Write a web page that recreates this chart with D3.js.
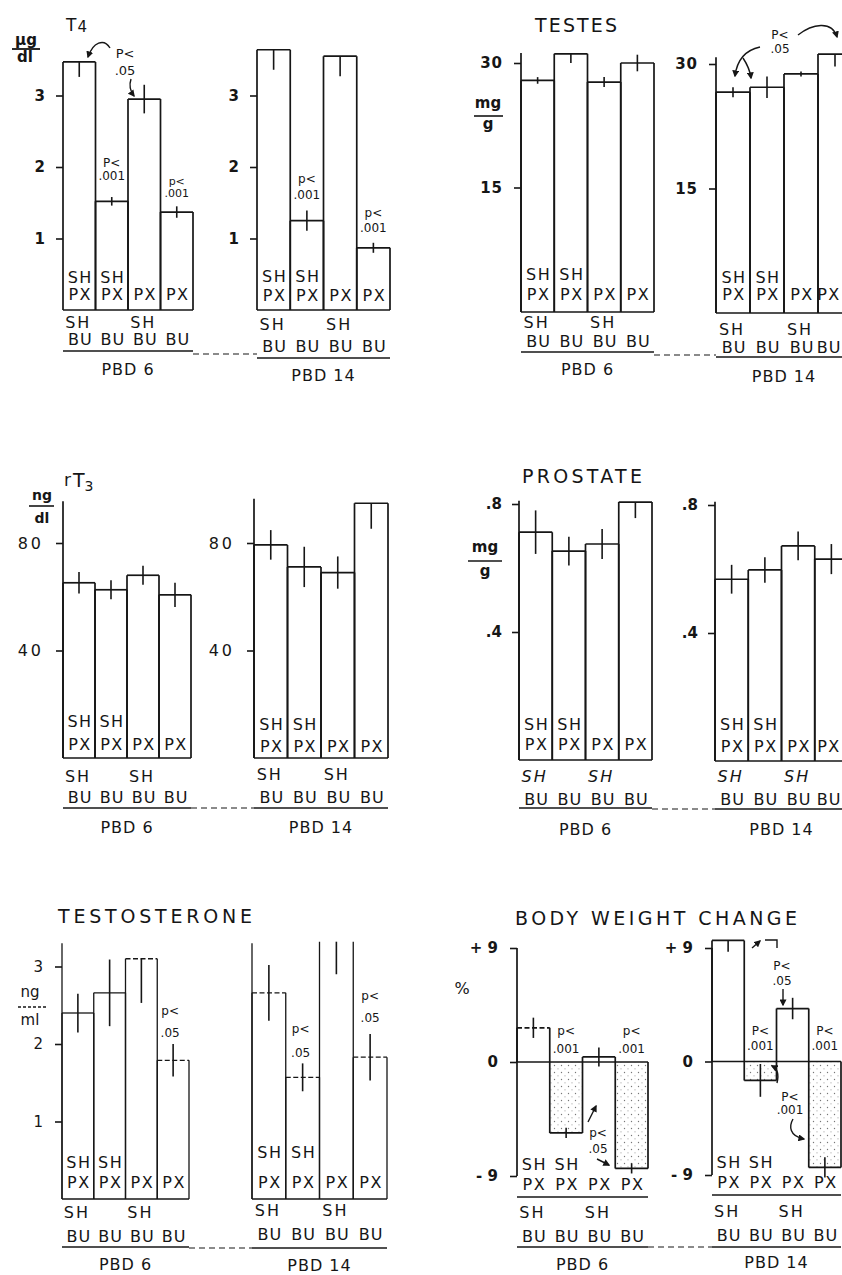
<!DOCTYPE html>
<html><head><meta charset="utf-8">
<script src="https://cdn.jsdelivr.net/npm/d3@7"></script>
<style>
body{margin:0;background:#fff}
svg{display:block}
text{font-family:"DejaVu Sans",sans-serif;fill:#161616}
</style>
</head><body>
<svg id="c" width="842" height="1275"></svg>
<script>
// ---------- DATA ----------
const catTop = [["SH","PX"],["SH","PX"],["","PX"],["","PX"]];
const catBottom = [["SH","BU"],["","BU"],["SH","BU"],["","BU"]];
const groupLabels = ["PBD 6","PBD 14"];

// T4 (µg/dl)
const t4Ticks = [1,2,3], t4TickLabels = ["1","2","3"];
const t4Pbd6 = [3.47,1.52,2.95,1.37], t4Pbd6Err = [0.21,0.06,0.2,0.08];
const t4Pbd14 = [3.64,1.25,3.55,0.87], t4Pbd14Err = [0.28,0.14,0.28,0.07];

// Testes (mg/g)
const testesTicks = [15,30], testesTickLabels = ["15","30"];
const testesPbd6 = [27.9,31.1,27.7,30.0], testesPbd6Err = [0.4,1.1,0.6,1.0];
const testesPbd14 = [26.6,27.2,28.8,31.2], testesPbd14Err = [0.6,1.3,0.3,1.5];

// rT3 (ng/dl)
const rt3Ticks = [40,80], rt3TickLabels = ["40","80"];
const rt3Pbd6 = [65.2,62.6,68.0,60.7], rt3Pbd6Err = [4,3.5,3.5,4.5];
const rt3Pbd14 = [79.3,71.1,69.0,94.8], rt3Pbd14Err = [5.5,7.5,6,9.5];

// Prostate (mg/g)
const prosTicks = [0.4,0.8], prosTickLabels = [".4",".8"];
const prosPbd6 = [0.712,0.653,0.675,0.806], prosPbd6Err = [0.068,0.045,0.047,0.05];
const prosPbd14 = [0.568,0.597,0.672,0.631], prosPbd14Err = [0.045,0.04,0.045,0.047];

// Testosterone (ng/ml)
const testoTicks = [1,2,3], testoTickLabels = ["1","2","3"];
const testoPbd6 = [2.4,2.66,3.1,1.79], testoPbd6Err = [0.25,0.43,0.57,0.21];
const testoPbd14 = [2.66,1.57,3.32,1.83], testoPbd14Err = [0.36,0.18,0.42,0.3];

// Body weight change (%)
const bwTicks = [-9,0,9], bwTickLabels = ["- 9","0","+ 9"];
const bwPbd6 = [2.7,-5.6,0.4,-8.4], bwPbd6Err = [0.8,0.4,0.75,0.4];
const bwPbd14 = [9.6,-1.5,4.2,-8.4], bwPbd14Err = [0.9,1.3,0.85,0.8];

// ---------- DRAWING ----------
const INK = "#161616";
const svg = d3.select("#c");
const defs = svg.append("defs");
const pat = defs.append("pattern").attr("id","stip").attr("patternUnits","userSpaceOnUse")
  .attr("width",7).attr("height",7);
pat.append("circle").attr("cx",1.5).attr("cy",1.5).attr("r",0.7).attr("fill","#777");
pat.append("circle").attr("cx",5).attr("cy",4.8).attr("r",0.6).attr("fill","#999");
defs.append("marker").attr("id","arr").attr("viewBox","0 0 10 10").attr("refX",8).attr("refY",5)
  .attr("markerWidth",5).attr("markerHeight",5).attr("orient","auto")
  .append("path").attr("d","M0,0L10,5L0,10z").attr("fill",INK);

function txt(x,y,s,opt={}){
  const t = svg.append("text").attr("x",x).attr("y",y).text(s)
    .attr("font-size",opt.size||16).attr("text-anchor",opt.anchor||"middle");
  if(opt.ls) t.attr("letter-spacing",opt.ls);
  if(opt.len) t.attr("textLength",opt.len).attr("lengthAdjust","spacing");
  if(opt.weight) t.attr("font-weight",opt.weight);
  if(opt.italic) t.attr("font-style","italic");
  return t;
}
function note(x,y,lines,gap,size){
  lines.forEach((s,k)=>txt(x,y+k*gap,s,{size:size||12}));
}
function arrow(d,head=true){
  const p = svg.append("path").attr("d",d).attr("fill","none").attr("stroke",INK).attr("stroke-width",1.4);
  if(head) p.attr("marker-end","url(#arr)");
}
function hline(x1,x2,y,dash,w){
  svg.append("line").attr("x1",x1).attr("x2",x2).attr("y1",y).attr("y2",y)
    .attr("stroke",INK).attr("stroke-width",w||1.4).attr("stroke-dasharray",dash||null);
}

function sub(o){
  const g = svg.append("g");
  const vals = o.values;
  const x = d3.scaleBand().domain(d3.range(vals.length)).range(o.xr);
  const bw = x.bandwidth();
  const y = d3.scaleLinear().domain(o.yd).range(o.yr);
  const sw = o.sw || 1.7;
  const items = vals.map((v,i)=>({v,i,e:o.errs[i],inw:(o.errIn||[]).includes(i)}));

  g.selectAll("rect.neg").data(items.filter(d=>d.v<0)).join("rect")
    .attr("x",d=>x(d.i)).attr("width",bw).attr("y",y(0)).attr("height",d=>y(d.v)-y(0))
    .attr("fill","url(#stip)");
  g.append("line").attr("x1",o.xr[0]).attr("x2",o.xr[1]).attr("y1",y(0)).attr("y2",y(0))
    .attr("stroke",INK).attr("stroke-width",sw);
  g.selectAll("path.side").data(items).join("path")
    .attr("d",d=>`M${x(d.i)},${y(0)}V${y(d.v)}M${x(d.i)+bw},${y(d.v)}V${y(0)}`)
    .attr("fill","none").attr("stroke",INK).attr("stroke-width",sw);
  g.selectAll("line.top").data(items.filter(d=>!(o.openTop||[]).includes(d.i))).join("line")
    .attr("x1",d=>x(d.i)).attr("x2",d=>x(d.i)+bw).attr("y1",d=>y(d.v)).attr("y2",d=>y(d.v))
    .attr("stroke",INK).attr("stroke-width",sw)
    .attr("stroke-dasharray",d=>(o.dashTop||[]).includes(d.i)?"5,2.5":null);
  g.selectAll("line.err").data(items).join("line")
    .attr("x1",d=>x(d.i)+bw*0.5).attr("x2",d=>x(d.i)+bw*0.5)
    .attr("y1",d=>d.inw ? y(d.v) : y(d.v+d.e))
    .attr("y2",d=>y(d.v - (d.inw ? Math.sign(d.v) : 1)*d.e))
    .attr("stroke",INK).attr("stroke-width",1.6);
  if(o.axisTo!=null){
    g.append("line").attr("x1",o.xr[0]).attr("x2",o.xr[0])
      .attr("y1",y(o.axisFrom!=null?o.axisFrom:0)).attr("y2",y(o.axisTo))
      .attr("stroke",INK).attr("stroke-width",sw);
  }
  if(o.ticks){
    const ax = d3.axisLeft(y).tickValues(o.ticks).tickFormat((d,i)=>o.tickLabels[i])
      .tickSize(7).tickPadding(o.pad||9);
    const ag = g.append("g").attr("transform",`translate(${o.xr[0]},0)`).call(ax);
    ag.select(".domain").remove();
    ag.selectAll(".tick line").attr("stroke",INK).attr("stroke-width",1.6);
    ag.selectAll(".tick text").attr("font-size",o.tickSize||15).attr("fill",INK)
      .attr("font-family","DejaVu Sans, sans-serif").attr("font-weight",o.tickBold?"bold":"normal")
      .attr("letter-spacing",o.tickLs||0);
  }
  const r = o.rows;
  items.forEach(d=>{
    const cx = Math.min(x(d.i)+bw/2+1, 829);
    const t = catTop[d.i], b = catBottom[d.i];
    if(t[0]) txt(cx, r.t1, t[0], {ls:1.5});
    if(t[1]) txt(cx, r.t2, t[1], {ls:1.5});
    if(b[0]) txt(cx-2, r.b1, b[0], {ls:2, italic:o.italicSH});
    if(b[1]) txt(cx, r.b2, b[1], {ls:1});
  });
  if(r.pxLine) hline(o.xr[0], o.xr[1], r.pxLine, null, 1.6);
  hline(o.xr[0], o.xr[1], r.line, null, 1.4);
  txt((o.xr[0]+o.xr[1])/2, r.grp, o.group, {ls:1});
  (o.notes||[]).forEach(n=>{
    const v = Math.max(vals[n.i],0);
    note(x(n.i)+bw/2+(n.dx||0), y(v)+n.off, n.lines, n.gap||13, n.size);
  });
}

function panel(a,b,connY){
  sub(a); sub(b);
  hline(a.xr[1], b.xr[0], connY, "6,4", 1.2);
}

// ---------- T4 ----------
txt(66,31,"",{anchor:"start"}).call(t=>{
  t.append("tspan").text("T").attr("font-size",17);
  t.append("tspan").text("4").attr("font-size",15).attr("dx",1).attr("dy",1);
});
txt(26,45,"μg",{size:15,weight:"bold"}); hline(12,40,49,null,1.8); txt(25,62,"dl",{size:15,weight:"bold"});
panel(
  {xr:[63,193], yd:[0,3], yr:[310,95.5], values:t4Pbd6, errs:t4Pbd6Err, errIn:[0],
   ticks:t4Ticks, tickLabels:t4TickLabels, tickBold:true, pad:11, group:groupLabels[0],
   rows:{t1:283,t2:300,b1:328,b2:345,line:351,grp:375},
   notes:[{i:1,off:-34,lines:["P<",".001"]},{i:3,off:-27,gap:12,size:11,lines:["p<",".001"]}]},
  {xr:[257,390], yd:[0,3], yr:[310,95.5], values:t4Pbd14, errs:t4Pbd14Err, errIn:[0,2],
   ticks:t4Ticks, tickLabels:t4TickLabels, tickBold:true, pad:11, group:groupLabels[1],
   rows:{t1:282,t2:301,b1:330,b2:352,line:358,grp:381},
   notes:[{i:1,off:-38,gap:16,lines:["p<",".001"]},{i:3,off:-31,gap:15,lines:["p<",".001"]}]},
  354);
note(125,58,["P<",".05"],17,13);
arrow("M110,48 C104,38 93,42 88,57");
arrow("M131,79 Q128,88 134,96");

// ---------- TESTES ----------
txt(535,32,"TESTES",{anchor:"start",size:19,len:82});
txt(488,108,"mg",{size:15,weight:"bold"}); hline(474,503,116,null,1.6); txt(488,129,"g",{size:15,weight:"bold"});
panel(
  {xr:[521,654], yd:[0,30], yr:[312,63], values:testesPbd6, errs:testesPbd6Err, errIn:[1],
   axisTo:31.2, ticks:testesTicks, tickLabels:testesTickLabels, tickBold:true, pad:11, tickLs:1,
   group:groupLabels[0], rows:{t1:280,t2:300,b1:328,b2:347,line:352,grp:375}},
  {xr:[716,852], yd:[0,30], yr:[313,64], values:testesPbd14, errs:testesPbd14Err, errIn:[3],
   axisTo:30.8, ticks:testesTicks, tickLabels:testesTickLabels, tickBold:true, pad:11, tickLs:1,
   group:groupLabels[1], rows:{t1:283,t2:300,b1:335,b2:353,line:357,grp:382}},
  355);
note(780,39,["P<",".05"],14,12);
arrow("M798,35 C812,24 832,20 837,37");
arrow("M760,47 C746,50 737,60 735,76");
arrow("M743,58 C747,64 750,70 751,78");

// ---------- rT3 ----------
txt(64,486,"r",{anchor:"start",size:17});
txt(73,487,"",{anchor:"start"}).call(t=>{
  t.append("tspan").text("T").attr("font-size",19);
  t.append("tspan").text("3").attr("font-size",14).attr("dy",4);
});
txt(42,500,"ng",{size:14,weight:"bold"}); hline(29,54,506,null,1.6); txt(42,523,"dl",{size:14,weight:"bold"});
panel(
  {xr:[63,191], yd:[0,80], yr:[758,543], values:rt3Pbd6, errs:rt3Pbd6Err,
   axisTo:95.5, ticks:rt3Ticks, tickLabels:rt3TickLabels, pad:12, tickLs:3, tickSize:16,
   group:groupLabels[0], rows:{t1:727,t2:750,b1:782,b2:803,line:808,grp:833}},
  {xr:[254,388], yd:[0,80], yr:[758,543], values:rt3Pbd14, errs:rt3Pbd14Err, errIn:[3],
   axisTo:96.5, ticks:rt3Ticks, tickLabels:rt3TickLabels, pad:12, tickLs:3, tickSize:16,
   group:groupLabels[1], rows:{t1:730,t2:752,b1:780,b2:803,line:808,grp:833}},
  808);

// ---------- PROSTATE ----------
txt(522,483,"PROSTATE",{anchor:"start",size:19,len:120});
txt(485,552,"mg",{size:15,weight:"bold"}); hline(468,502,561,null,1.6); txt(485,576,"g",{size:15,weight:"bold"});
panel(
  {xr:[519,652], yd:[0,0.8], yr:[760,504], values:prosPbd6, errs:prosPbd6Err, errIn:[3],
   axisTo:0.81, ticks:prosTicks, tickLabels:prosTickLabels, tickBold:true, pad:10, italicSH:true,
   group:groupLabels[0], rows:{t1:730,t2:750,b1:782,b2:805,line:808,grp:835}},
  {xr:[715,848], yd:[0,0.8], yr:[761,505], values:prosPbd14, errs:prosPbd14Err,
   axisTo:0.81, ticks:prosTicks, tickLabels:prosTickLabels, tickBold:true, pad:10, italicSH:true,
   group:groupLabels[1], rows:{t1:730,t2:752,b1:782,b2:805,line:809,grp:835}},
  809);

// ---------- TESTOSTERONE ----------
txt(58,923,"TESTOSTERONE",{anchor:"start",size:19,len:194});
txt(30,997,"ng",{size:15}); hline(18,48,1007,"3,2",1.4); txt(30,1025,"ml",{size:15});
panel(
  {xr:[62,189], yd:[0,3], yr:[1199,966.5], values:testoPbd6, errs:testoPbd6Err, errIn:[2], sw:1.3,
   dashTop:[2,3], axisTo:3.3, ticks:testoTicks, tickLabels:testoTickLabels, pad:12,
   group:groupLabels[0], rows:{t1:1168,t2:1188,b1:1218,b2:1242,line:1247,grp:1270},
   notes:[{i:3,dx:-3,off:-45,gap:22,lines:["p<",".05"]}]},
  {xr:[252,387], yd:[0,3], yr:[1199,966.5], values:testoPbd14, errs:testoPbd14Err, errIn:[2], sw:1.3,
   openTop:[2], dashTop:[0,1,3], axisTo:3.3,
   group:groupLabels[1], rows:{t1:1158,t2:1188,b1:1216,b2:1240,line:1248,grp:1271},
   notes:[{i:1,dx:-2,off:-44,gap:24,lines:["p<",".05"]},{i:3,off:-57,gap:22,lines:["p<",".05"]}]},
  1248);

// ---------- BODY WEIGHT CHANGE ----------
txt(515,925,"BODY WEIGHT CHANGE",{anchor:"start",size:19,len:282});
txt(462,994,"%",{size:16});
panel(
  {xr:[517,648], yd:[-9,9], yr:[1176,948], values:bwPbd6, errs:bwPbd6Err,
   axisFrom:-9, axisTo:9, ticks:bwTicks, tickLabels:bwTickLabels, tickBold:true, pad:12, dashTop:[0],
   group:groupLabels[0], rows:{t1:1170,t2:1190,pxLine:1197,b1:1218,b2:1242,line:1247,grp:1270},
   notes:[{i:1,off:-27,gap:18,lines:["p<",".001"]},{i:3,off:-27,gap:18,lines:["p<",".001"]}]},
  {xr:[712,841], yd:[-9,9], yr:[1175,948], values:bwPbd14, errs:bwPbd14Err, errIn:[0],
   axisFrom:-9, axisTo:9, ticks:bwTicks, tickLabels:bwTickLabels, tickBold:true, pad:12,
   group:groupLabels[1], rows:{t1:1168,t2:1188,pxLine:1195,b1:1217,b2:1241,line:1247,grp:1268},
   notes:[{i:1,off:-27,gap:15,lines:["P<",".001"]},{i:3,off:-27,gap:15,lines:["P<",".001"]}]},
  1247);
note(598,1137,["p<",".05"],16,12);
arrow("M588,1122 L596,1106");
arrow("M597,1159 L609,1165");
note(782,970,["P<",".05"],15,12);
arrow("M783,989 L783,1005");
note(790,1101,["P<",".001"],13,12);
arrow("M777,1083 C779,1075 778,1069 772,1066");
arrow("M793,1119 C789,1126 789,1136 804,1139");
arrow("M752,948 L760,941");
arrow("M765,940 H777 V948", false);
</script>
</body></html>
